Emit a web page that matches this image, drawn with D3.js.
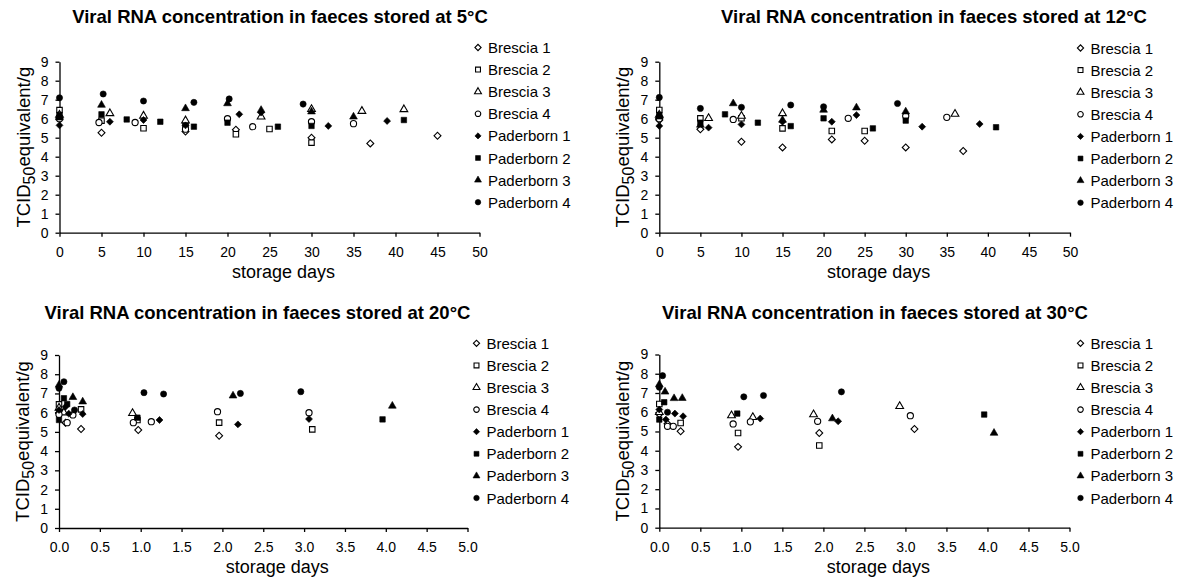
<!DOCTYPE html>
<html>
<head>
<meta charset="utf-8">
<style>
  body { margin: 0; background: #fff; }
  svg text { font-family: "Liberation Sans", Arial, sans-serif; fill: #000; }
  .axis path, .axis line { stroke: #000; stroke-width: 1.3px; }
  .axis text { font-size: 14px; }
</style>
</head>
<body>
<svg id="chart" width="1184" height="579"></svg>
<script src="https://cdn.jsdelivr.net/npm/d3@7"></script>
<script>
const seriesNames = ["Brescia 1", "Brescia 2", "Brescia 3", "Brescia 4",
  "Paderborn 1", "Paderborn 2", "Paderborn 3", "Paderborn 4"];
const shapes = ["diamond", "square", "triangle", "circle", "diamond", "square", "triangle", "circle"];
const filled = [false, false, false, false, true, true, true, true];

const dayTicksLong = [0, 5, 10, 15, 20, 25, 30, 35, 40, 45, 50];
const dayTicksShort = [0, 0.5, 1, 1.5, 2, 2.5, 3, 3.5, 4, 4.5, 5];
const logTicks = [0, 1, 2, 3, 4, 5, 6, 7, 8, 9];

// [storage day, log TCID50 equivalent/g], one list per series
const stored5C = [
  [[0, 6.0], [5, 5.26], [15, 5.32], [21, 5.42], [30, 5.0], [37, 4.7], [45, 5.1]],
  [[0, 6.45], [5, 5.9], [10, 5.5], [15, 5.6], [21, 5.18], [25, 5.46], [30, 4.74]],
  [[0, 6.2], [6, 6.28], [10, 6.15], [15, 5.9], [24, 6.1], [30, 6.5], [36, 6.4], [41, 6.49]],
  [[0, 6.0], [4.7, 5.8], [9, 5.8], [15, 5.45], [20, 6.0], [23, 5.58], [30, 5.84], [35, 5.74]],
  [[0, 5.65], [6, 5.84], [10, 5.93], [15, 5.65], [21.4, 6.23], [24, 6.32], [32, 5.62], [39, 5.88]],
  [[0, 6.2], [5, 6.23], [8, 5.96], [12, 5.84], [16, 5.58], [20, 5.79], [26, 5.58], [30, 5.62], [41, 5.93]],
  [[0, 6.05], [5, 6.72], [15, 6.54], [20, 6.8], [24, 6.45], [30, 6.37], [35, 6.1]],
  [[0, 7.1], [5.2, 7.3], [10, 6.93], [16, 6.86], [20.2, 7.04], [29, 6.77]]
];
const stored12C = [
  [[0, 5.93], [5, 5.44], [10, 4.79], [15, 4.49], [21, 4.91], [25, 4.84], [30, 4.49], [37, 4.3]],
  [[0, 6.46], [5, 6.02], [10, 6.02], [15, 5.49], [21, 5.35], [25, 5.35]],
  [[0, 6.2], [6, 6.02], [10, 6.14], [15, 6.28], [36, 6.25]],
  [[0, 6.0], [9, 5.96], [23, 6.02], [30, 6.14], [35, 6.07]],
  [[0, 5.62], [6, 5.53], [10, 5.7], [15, 5.84], [21, 5.84], [24, 6.19], [32, 5.58], [39, 5.72]],
  [[0, 6.2], [5, 5.79], [8, 6.23], [12, 5.79], [16, 5.61], [20, 6.02], [26, 5.49], [30, 5.9], [41, 5.55]],
  [[0, 6.1], [5, 5.67], [9, 6.8], [15, 5.93], [20, 6.46], [24, 6.58], [30, 6.37]],
  [[0, 7.12], [5, 6.54], [10, 6.6], [16, 6.72], [20, 6.63], [29, 6.8]]
];
const stored20C = [
  [[0, 6.0], [0.08, 5.48], [0.27, 5.15], [0.97, 5.1], [1.96, 4.8]],
  [[0, 6.43], [0.27, 6.17], [0.96, 5.62], [1.96, 5.48], [3.1, 5.13]],
  [[0, 6.25], [0.06, 6.0], [0.9, 5.97]],
  [[0, 5.9], [0.1, 5.48], [0.17, 5.88], [0.91, 5.48], [1.13, 5.53], [1.94, 6.05], [3.06, 6.0]],
  [[0, 6.14], [0.08, 6.31], [0.12, 5.95], [0.29, 5.93], [1.23, 5.62], [2.19, 5.39], [3.06, 5.67]],
  [[0, 5.62], [0.06, 6.75], [0.1, 6.45], [0.96, 5.74], [3.96, 5.65]],
  [[0, 7.44], [0.17, 6.8], [0.29, 6.57], [2.13, 6.88], [4.08, 6.35]],
  [[0, 7.27], [0.06, 7.61], [0.19, 6.14], [1.04, 7.04], [1.28, 6.97], [2.22, 7.0], [2.96, 7.09]]
];
const stored30C = [
  [[0, 5.9], [0.1, 5.4], [0.26, 5.01], [0.96, 4.2], [1.95, 4.92], [3.11, 5.13]],
  [[0, 6.43], [0.26, 5.44], [0.96, 4.92], [1.95, 4.27]],
  [[0, 6.0], [0.88, 5.83], [1.14, 5.74], [1.88, 5.88], [2.93, 6.31]],
  [[0.1, 5.27], [0.17, 5.27], [0.9, 5.39], [1.11, 5.5], [1.93, 5.53], [3.06, 5.82]],
  [[0, 6.14], [0.08, 5.62], [0.19, 5.93], [0.29, 5.79], [1.23, 5.67], [2.18, 5.53]],
  [[0, 5.62], [0.06, 6.52], [0.95, 5.93], [3.96, 5.88]],
  [[0, 7.44], [0.07, 7.06], [0.18, 6.72], [0.28, 6.73], [2.11, 5.67], [4.08, 4.92]],
  [[0, 7.3], [0.04, 7.9], [0.1, 6.0], [1.03, 6.8], [1.27, 6.87], [2.22, 7.06]]
];

const panels = [
  { title: "Viral RNA concentration in faeces stored at 5°C", data: stored5C, xMax: 50, ticks: dayTicksLong, fmt: d3.format("d"),
    left: 59.5, right: 479.5, top: 61.7, bottom: 232.7, titleX: 280, titleY: 23, legX: 478, legY: 47.5 },
  { title: "Viral RNA concentration in faeces stored at 12°C", data: stored12C, xMax: 50, ticks: dayTicksLong, fmt: d3.format("d"),
    left: 659.3, right: 1070, top: 61.7, bottom: 232.7, titleX: 934, titleY: 23, legX: 1080.5, legY: 48 },
  { title: "Viral RNA concentration in faeces stored at 20°C", data: stored20C, xMax: 5, ticks: dayTicksShort, fmt: d3.format(".1f"),
    left: 59, right: 467.5, top: 355, bottom: 528, titleX: 257.5, titleY: 318.5, legX: 476.5, legY: 343.3 },
  { title: "Viral RNA concentration in faeces stored at 30°C", data: stored30C, xMax: 5, ticks: dayTicksShort, fmt: d3.format(".1f"),
    left: 659.3, right: 1069.5, top: 354.5, bottom: 527.7, titleX: 875, titleY: 318.5, legX: 1080.5, legY: 343.3 }
];

const svg = d3.select("#chart");
svg.append("rect").attr("width", 1184).attr("height", 579).attr("fill", "#fff");

function markPath(shape, big) {
  const k = big ? 1 : 0.8;
  if (shape == "diamond") return d3.symbol(d3.symbolSquare, 24 * k)();
  if (shape == "square") return d3.symbol(d3.symbolSquare, 30 * k)();
  if (shape == "triangle") return d3.symbol(d3.symbolTriangle, 26 * k)();
  return d3.symbol(d3.symbolCircle, 30 * k)();
}

function drawMark(g, i, x, y, big) {
  g.append("path")
    .attr("d", markPath(shapes[i], big))
    .attr("transform", `translate(${x},${y})` + (shapes[i] == "diamond" ? " rotate(45)" : ""))
    .attr("fill", filled[i] ? "#000" : "#fff")
    .attr("stroke", "#000")
    .attr("stroke-width", filled[i] ? 0.6 : 1.1);
}

panels.forEach(p => {
  const x = d3.scaleLinear().domain([0, p.xMax]).range([p.left, p.right]);
  const y = d3.scaleLinear().domain([0, 9]).range([p.bottom, p.top]);

  svg.append("text")
    .attr("x", p.titleX).attr("y", p.titleY)
    .attr("text-anchor", "middle")
    .style("font-size", "18.5px").style("font-weight", "bold")
    .text(p.title);

  svg.append("g").attr("class", "axis")
    .attr("transform", `translate(0,${p.bottom})`)
    .call(d3.axisBottom(x).tickValues(p.ticks).tickFormat(p.fmt).tickSize(4).tickSizeOuter(0).tickPadding(10));

  svg.append("g").attr("class", "axis")
    .attr("transform", `translate(${p.left},0)`)
    .call(d3.axisLeft(y).tickValues(logTicks).tickFormat(d3.format("d")).tickSize(4).tickSizeOuter(0).tickPadding(7));

  svg.selectAll(".axis text").attr("font-family", null);

  svg.append("text")
    .attr("x", (p.left + p.right) / 2 + 14).attr("y", p.bottom + 45)
    .attr("text-anchor", "middle")
    .style("font-size", "18px")
    .text("storage days");

  const yl = svg.append("text")
    .attr("transform", `translate(${p.left - 30},${(p.top + p.bottom) / 2}) rotate(-90)`)
    .attr("text-anchor", "middle")
    .style("font-size", "18.5px");
  yl.append("tspan").text("TCID");
  yl.append("tspan").attr("dy", 5).style("font-size", "16px").text("50");
  yl.append("tspan").attr("dy", -5).text("equivalent/g");

  // points, open series first so filled ones sit on top
  const g = svg.append("g");
  p.data.forEach((pts, i) => {
    pts.forEach(d => drawMark(g, i, x(d[0]), y(d[1]), true));
  });

  // legend
  const lg = svg.append("g");
  seriesNames.forEach((name, i) => {
    const ry = p.legY + i * 22.1;
    drawMark(lg, i, p.legX, ry, false);
    lg.append("text")
      .attr("x", p.legX + 10).attr("y", ry + 5.5)
      .style("font-size", "15px")
      .text(name);
  });
});
</script>
</body>
</html>
